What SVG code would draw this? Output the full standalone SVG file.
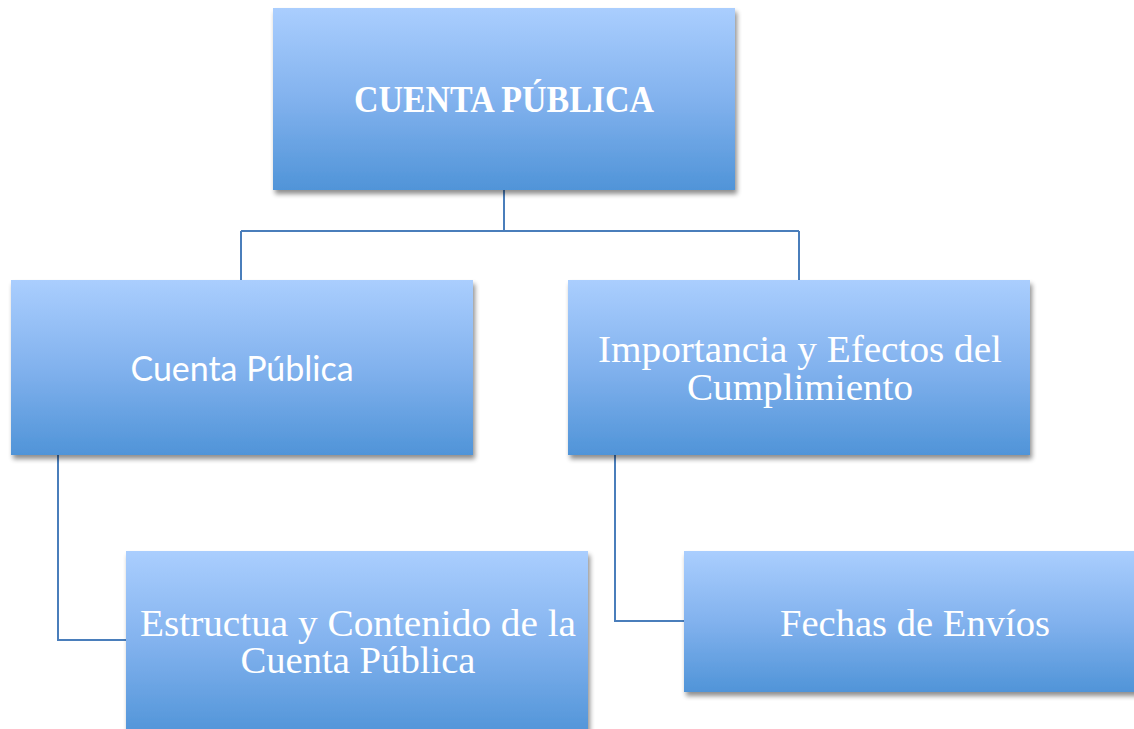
<svg xmlns="http://www.w3.org/2000/svg" width="1134" height="729" viewBox="0 0 1134 729">
<defs>
<linearGradient id="g" x1="0" y1="0" x2="0" y2="1">
<stop offset="0" stop-color="#AACEFE"/>
<stop offset="0.5" stop-color="#82B2EE"/>
<stop offset="1" stop-color="#5094D8"/>
</linearGradient>
<filter id="sh" x="-5%" y="-5%" width="115%" height="120%">
<feGaussianBlur in="SourceAlpha" stdDeviation="2.5"/>
<feOffset dx="2" dy="4" result="b"/>
<feComponentTransfer><feFuncA type="linear" slope="0.45"/></feComponentTransfer>
<feMerge><feMergeNode/><feMergeNode in="SourceGraphic"/></feMerge>
</filter>
</defs>
<style>
.box{fill:url(#g);filter:url(#sh)}
.serif{font-family:"Liberation Serif","DejaVu Serif",serif;fill:#fff;text-anchor:middle;font-size:37px}
.sans{font-family:"Lato","Open Sans","Liberation Sans",sans-serif;fill:#fff;text-anchor:middle;font-size:34px}
.conn{fill:none;stroke:#4A7EBB;stroke-width:2}
</style>
<rect width="1134" height="729" fill="#fff"/>
<g id="connectors">
<path class="conn" d="M504,190 V231 M241,231 H799 M241,231 V280 M799,231 V280"/>
<path class="conn" d="M58,455 V640 H126"/>
<path class="conn" d="M615,455 V621 H684"/>
</g>
<g id="n-top">
<rect class="box" x="273" y="8" width="462" height="182"/>
<text class="serif" x="504" y="112" style="font-size:37px" font-weight="bold" textLength="300" lengthAdjust="spacingAndGlyphs">CUENTA PÚBLICA</text>
</g>
<g id="n-left">
<rect class="box" x="11" y="280" width="462" height="175"/>
<text class="sans" x="242" y="381" textLength="223" lengthAdjust="spacingAndGlyphs">Cuenta Pública</text>
</g>
<g id="n-right">
<rect class="box" x="568" y="280" width="462" height="175"/>
<text class="serif" x="800" y="362" textLength="404" lengthAdjust="spacingAndGlyphs">Importancia y Efectos del</text>
<text class="serif" x="800" y="400" textLength="226" lengthAdjust="spacingAndGlyphs">Cumplimiento</text>
</g>
<g id="n-bl">
<rect class="box" x="126" y="551" width="462" height="185"/>
<text class="serif" x="358" y="636" textLength="436" lengthAdjust="spacingAndGlyphs">Estructua y Contenido de la</text>
<text class="serif" x="358" y="673" textLength="235" lengthAdjust="spacingAndGlyphs">Cuenta Pública</text>
</g>
<g id="n-br">
<rect class="box" x="684" y="551" width="462" height="141"/>
<text class="serif" x="915" y="636" textLength="270" lengthAdjust="spacingAndGlyphs">Fechas de Envíos</text>
</g>
</svg>
